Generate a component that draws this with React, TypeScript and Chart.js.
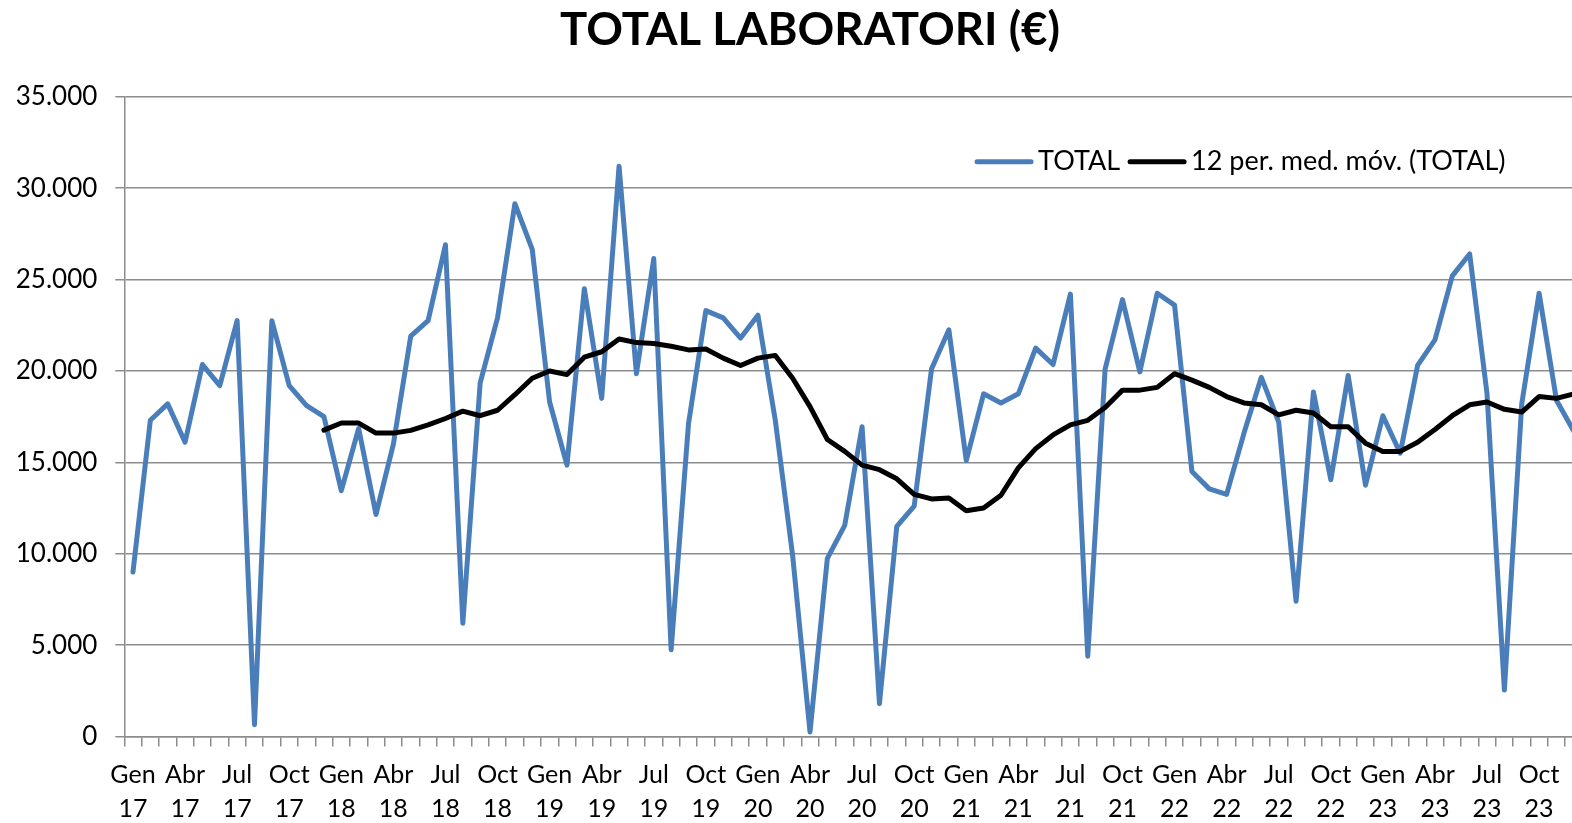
import { useEffect, useRef } from "react";
import { Chart, registerables } from "chart.js";

Chart.register(...registerables);

const TITLE = "TOTAL LABORATORI (€)";
const MONTHS = ["Gen", "Feb", "Mar", "Abr", "Mai", "Jun", "Jul", "Ago", "Set", "Oct", "Nov", "Des"];
const YEARS = ["17", "18", "19", "20", "21", "22", "23"];
const SERIES_LABELS = ["TOTAL", "12 per. med. móv. (TOTAL)"];

const TOTAL = [
  9000, 17300, 18200, 16100, 20350, 19200, 22750, 650, 22750, 19200, 18100, 17500,
  13450, 16850, 12150, 16000, 21900, 22750, 26900, 6200, 19350, 22900, 29150, 26650,
  18300, 14850, 24500, 18500, 31200, 19850, 26150, 4750, 17100, 23300, 22900, 21800,
  23050, 17300, 9900, 250, 9750, 11550, 16950, 1800, 11500, 12600, 20100, 22250,
  15100, 18750, 18250, 18750, 21250, 20350, 24200, 4400, 20100, 23900, 19950, 24250,
  23600, 14500, 13550, 13250, 16600, 19650, 17200, 7400, 18850, 14050, 19750, 13750,
  17550, 15500, 20300, 21700, 25200, 26400, 18750, 2550, 18200, 24250, 18400, 16700,
];

const MOVING_AVG = [
  null, null, null, null, null, null, null, null, null, null, null, 16760,
  17150, 17150, 16600, 16600, 16750, 17050, 17400, 17800, 17550, 17850, 18700, 19600,
  20000, 19800, 20750, 21050, 21750, 21550, 21500, 21350, 21150, 21200, 20700, 20300,
  20700, 20850, 19600, 18050, 16250, 15600, 14850, 14600, 14100, 13250, 13000, 13050,
  12350, 12500, 13200, 14700, 15750, 16500, 17050, 17300, 18000, 18950, 18950, 19100,
  19850, 19500, 19100, 18600, 18250, 18150, 17600, 17850, 17700, 16950, 16950, 16050,
  15600, 15600, 16100, 16800, 17550, 18150, 18300, 17900, 17750, 18600, 18500, 18750,
];

const Y_MIN = 0;
const Y_MAX = 35000;
const Y_STEP = 5000;

const FONT = "Lato";
const GRID = "#8c8c8c";

function fmtThousands(v: number): string {
  const s = String(Math.round(v));
  return s.replace(/\B(?=(\d{3})+(?!\d))/g, ".");
}

export default function App() {
  const ref = useRef<HTMLCanvasElement>(null);

  useEffect(() => {
    document.body.style.margin = "0";
    const labels = YEARS.flatMap((y) => MONTHS.map((m) => `${m} ${y}`));

    const insideLegend = {
      id: "insideLegend",
      afterDraw(chart: any) {
        const { ctx, chartArea } = chart;
        ctx.save();
        ctx.font = `27px ${FONT}`;
        const sample = 58;
        const gapText = 5;
        const gapItem = 8;
        const items = chart.data.datasets.map((ds: any) => ({
          label: ds.label,
          color: ds.borderColor,
          w: ctx.measureText(ds.label).width,
        }));
        const total =
          items.reduce((a: number, it: any) => a + sample + gapText + it.w, 0) +
          gapItem * (items.length - 1);
        let x = chartArea.right - 77 - total;
        const y = chartArea.top + 65;
        for (const it of items) {
          ctx.strokeStyle = it.color;
          ctx.lineWidth = 5;
          ctx.lineCap = "round";
          ctx.beginPath();
          ctx.moveTo(x + 2, y);
          ctx.lineTo(x + sample - 2, y);
          ctx.stroke();
          x += sample + gapText;
          ctx.fillStyle = "#000";
          ctx.textBaseline = "middle";
          ctx.textAlign = "left";
          ctx.fillText(it.label, x, y);
          x += it.w + gapItem;
        }
        ctx.restore();
      },
    };

    const chart = new Chart(ref.current!, {
      type: "line",
      data: {
        labels,
        datasets: [
          {
            label: SERIES_LABELS[0],
            data: TOTAL,
            borderColor: "#4a7ebb",
            backgroundColor: "#4a7ebb",
            borderWidth: 5,
            pointRadius: 0,
            tension: 0,
            borderJoinStyle: "round",
            borderCapStyle: "round",
            order: 1,
          },
          {
            label: SERIES_LABELS[1],
            data: MOVING_AVG,
            borderColor: "#000000",
            backgroundColor: "#000000",
            borderWidth: 5,
            pointRadius: 0,
            tension: 0,
            borderJoinStyle: "round",
            borderCapStyle: "round",
            order: 0,
          },
        ],
      },
      options: {
        responsive: false,
        animation: false,
        layout: { padding: 0 },
        plugins: {
          legend: { display: false },
          tooltip: { enabled: false },
          title: {
            display: true,
            text: TITLE,
            color: "#000",
            font: { family: FONT, size: 45.5, weight: "bold", lineHeight: 1.2 },
            padding: { top: 3, bottom: 39.1 },
          },
        },
        scales: {
          x: {
            type: "category",
            offset: true,
            grid: {
              offset: true,
              drawOnChartArea: false,
              drawTicks: true,
              tickLength: 10,
              color: GRID,
              lineWidth: 1.5,
            },
            border: { color: GRID, width: 1.5 },
            ticks: {
              autoSkip: false,
              maxRotation: 0,
              minRotation: 0,
              padding: 12,
              color: "#000",
              font: { family: FONT, size: 25, lineHeight: 1.33 },
              callback: (_v: any, i: number) => (i % 3 === 0 ? labels[i].split(" ") : ""),
            },
            afterFit: (s: any) => {
              s.height = 86.4;
            },
          },
          y: {
            type: "linear",
            min: Y_MIN,
            max: Y_MAX,
            ticks: {
              stepSize: Y_STEP,
              padding: 18,
              color: "#000",
              font: { family: FONT, size: 26 },
              callback: (v: any) => fmtThousands(Number(v)),
            },
            grid: { color: GRID, lineWidth: 1.5, tickLength: 9 },
            border: { color: GRID, width: 1.5 },
            afterFit: (s: any) => {
              s.width = 124.3;
            },
          },
          yRight: {
            type: "linear",
            position: "right",
            display: true,
            grid: { display: false },
            ticks: { display: false },
            border: { display: false },
            afterFit: (s: any) => {
              s.width = 37.5;
            },
          },
        },
      },
      plugins: [insideLegend],
    });

    return () => chart.destroy();
  }, []);

  return (
    <div style={{ width: 1572, height: 823, overflow: "hidden", position: "relative", background: "#fff" }}>
      <canvas ref={ref} width={1620} height={823} style={{ display: "block" }} />
    </div>
  );
}
